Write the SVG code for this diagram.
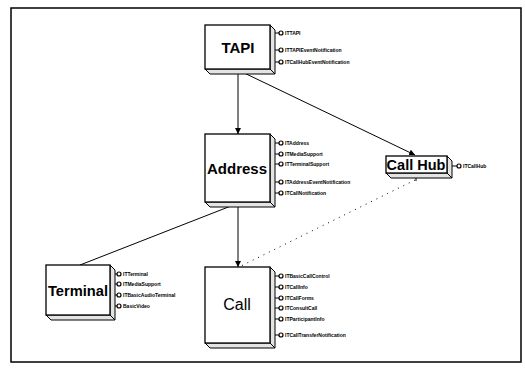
<svg xmlns="http://www.w3.org/2000/svg" width="525" height="373" viewBox="0 0 525 373">
<defs>
<style>
.frame{fill:none;stroke:#000;stroke-width:1.5}
.front{fill:#fff;stroke:#000;stroke-width:1.3}
.face{fill:#e4e4e4;stroke:#000;stroke-width:1}
.t{font-family:"Liberation Sans",Arial,sans-serif;font-weight:bold;fill:#000;text-anchor:middle}
.pl{stroke:#000;stroke-width:1;fill:none}
.pc{fill:#fff;stroke:#000;stroke-width:1.2}
.lb{font-family:"Liberation Sans",Arial,sans-serif;font-size:5px;font-weight:bold;fill:#000}
.c{stroke:#000;stroke-width:1;fill:none}
.d{stroke:#000;stroke-width:1;fill:none;stroke-dasharray:1 5}
</style>
<marker id="ah" viewBox="0 0 8 8" refX="8" refY="4" markerWidth="6" markerHeight="6" orient="auto" markerUnits="userSpaceOnUse">
<path d="M0,0 L8,4 L0,8 z" fill="#000"/>
</marker>
</defs>
<rect width="525" height="373" fill="#fff"/>
<rect class="frame" x="11" y="8" width="510" height="354"/>

<g id="connectors">
<line class="c" x1="238" y1="70" x2="238" y2="134" marker-end="url(#ah)"/>
<line class="c" x1="238" y1="70" x2="415" y2="155" marker-end="url(#ah)"/>
<line class="c" x1="238" y1="204" x2="238" y2="267" marker-end="url(#ah)"/>
<line class="c" x1="236" y1="204" x2="80" y2="265"/>
<line class="d" x1="415" y1="180" x2="241" y2="266"/>
<circle cx="238" cy="70" r="1.3" fill="#000"/>
<circle cx="238" cy="204" r="1.3" fill="#000"/>
<line class="c" x1="416" y1="176" x2="416" y2="181"/>
</g>

<g id="tapi">
<polygon class="face" points="270,25 275,30 275,74 270,69"/>
<polygon class="face" points="205,69 210,74 275,74 270,69"/>
<rect class="front" x="205" y="25" width="65" height="44"/>
<text class="t" x="238" y="53" font-size="15">TAPI</text>
<path class="pl" d="M275,33H279M275,50H279M275,62H279"/>
<circle class="pc" cx="281" cy="33" r="2"/><text class="lb" x="285" y="35">ITTAPI</text>
<circle class="pc" cx="281" cy="50" r="2"/><text class="lb" x="285" y="52">ITTAPIEventNotification</text>
<circle class="pc" cx="281" cy="62" r="2"/><text class="lb" x="285" y="64">ITCallHubEventNotification</text>
</g>

<g id="address">
<polygon class="face" points="270,134 275,139 275,207 270,202"/>
<polygon class="face" points="205,202 210,207 275,207 270,202"/>
<rect class="front" x="205" y="134" width="65" height="68"/>
<text class="t" x="237" y="174" font-size="15">Address</text>
<path class="pl" d="M275,143H279M275,154H279M275,164H279M275,182H279M275,193H279"/>
<circle class="pc" cx="281" cy="143" r="2"/><text class="lb" x="285" y="145">ITAddress</text>
<circle class="pc" cx="281" cy="154" r="2"/><text class="lb" x="285" y="156">ITMediaSupport</text>
<circle class="pc" cx="281" cy="164" r="2"/><text class="lb" x="285" y="166">ITTerminalSupport</text>
<circle class="pc" cx="281" cy="182" r="2"/><text class="lb" x="285" y="184">ITAddressEventNotification</text>
<circle class="pc" cx="281" cy="193" r="2"/><text class="lb" x="285" y="195">ITCallNotification</text>
</g>

<g id="callhub">
<polygon class="face" points="447,156 452,161 452,178 447,173"/>
<polygon class="face" points="386,173 391,178 452,178 447,173"/>
<rect class="front" x="386" y="156" width="61" height="17"/>
<text class="t" x="416" y="170" font-size="14.5">Call Hub</text>
<path class="pl" d="M452,166H457"/>
<circle class="pc" cx="459" cy="166" r="2"/><text class="lb" x="463" y="168">ITCallHub</text>
</g>

<g id="terminal">
<polygon class="face" points="110,265 115,270 115,320 110,315"/>
<polygon class="face" points="46,315 51,320 115,320 110,315"/>
<rect class="front" x="46" y="265" width="64" height="50"/>
<text class="t" x="78" y="296" font-size="15" textLength="60" lengthAdjust="spacingAndGlyphs">Terminal</text>
<path class="pl" d="M115,274H117M115,284H117M115,295H117M115,306H117"/>
<circle class="pc" cx="119" cy="274" r="2"/><text class="lb" x="123" y="276">ITTerminal</text>
<circle class="pc" cx="119" cy="284" r="2"/><text class="lb" x="123" y="286">ITMediaSupport</text>
<circle class="pc" cx="119" cy="295" r="2"/><text class="lb" x="123" y="297">ITBasicAudioTerminal</text>
<circle class="pc" cx="119" cy="306" r="2"/><text class="lb" x="123" y="308">BasicVideo</text>
</g>

<g id="call">
<polygon class="face" points="270,267 275,272 275,348 270,343"/>
<polygon class="face" points="205,343 210,348 275,348 270,343"/>
<rect class="front" x="205" y="267" width="65" height="76"/>
<text class="t" x="237" y="310" font-size="16" font-weight="normal" style="font-weight:normal">Call</text>
<path class="pl" d="M275,276H279M275,287H279M275,298H279M275,308H279M275,319H279M275,335H279"/>
<circle class="pc" cx="281" cy="276" r="2"/><text class="lb" x="285" y="278">ITBasicCallControl</text>
<circle class="pc" cx="281" cy="287" r="2"/><text class="lb" x="285" y="289">ITCallInfo</text>
<circle class="pc" cx="281" cy="298" r="2"/><text class="lb" x="285" y="300">ITCallForms</text>
<circle class="pc" cx="281" cy="308" r="2"/><text class="lb" x="285" y="310">ITConsultCall</text>
<circle class="pc" cx="281" cy="319" r="2"/><text class="lb" x="285" y="321">ITParticipantInfo</text>
<circle class="pc" cx="281" cy="335" r="2"/><text class="lb" x="285" y="337">ITCallTransferNotification</text>
</g>
</svg>
